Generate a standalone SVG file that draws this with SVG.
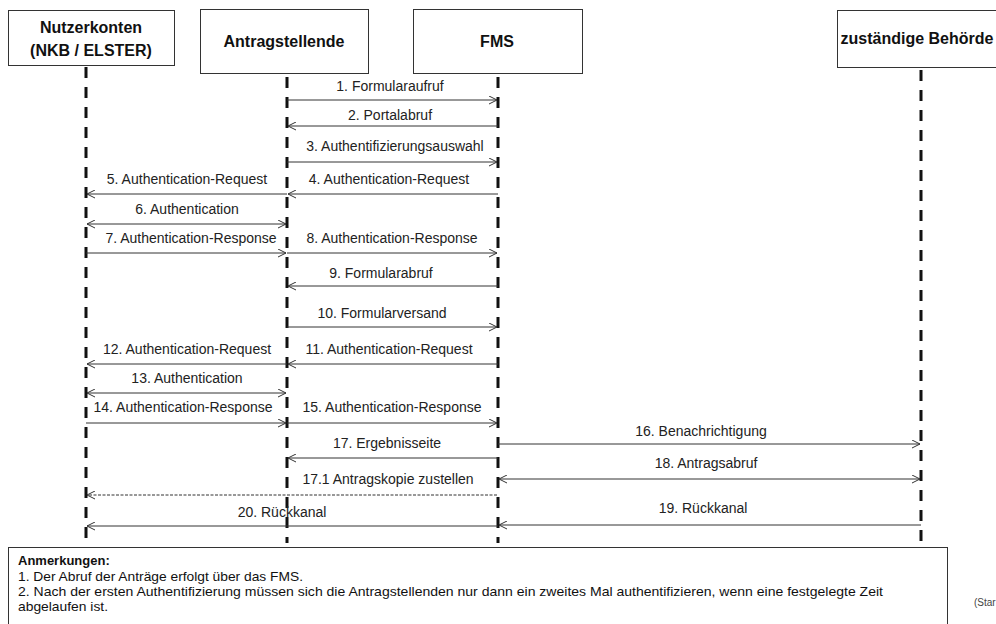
<svg xmlns="http://www.w3.org/2000/svg" width="996" height="624" viewBox="0 0 996 624">
<defs>
<marker id="ah" viewBox="0 0 9 9" refX="8.5" refY="4.5" markerWidth="9" markerHeight="9" markerUnits="userSpaceOnUse" orient="auto-start-reverse">
<path d="M0.5,0.5 L8.5,4.5 L0.5,8.5" fill="none" stroke="#333" stroke-width="1"/>
</marker>
<style>
.box{fill:#fff;stroke:#333;stroke-width:1}
.hd{font-family:"Liberation Sans",Arial,sans-serif;font-weight:bold;font-size:16px;fill:#111;text-anchor:middle}
.life{stroke:#111;stroke-width:3;stroke-dasharray:11 9;fill:none}
.msg{stroke:#333;stroke-width:1;fill:none;marker-end:url(#ah)}
.bi{marker-start:url(#ah)}
.dash{stroke-dasharray:3 1.5}
.lb{font-family:"Liberation Sans",Arial,sans-serif;font-size:14px;fill:#222;text-anchor:middle}
.nt{font-family:"Liberation Sans",Arial,sans-serif;font-size:13px;fill:#111}
</style>
</defs>
<rect width="996" height="624" fill="#fff"/>

<g id="nutzerkonten">
<rect class="box" x="8.5" y="10.5" width="166" height="55"/>
<text class="hd" x="91" y="33">Nutzerkonten</text>
<text class="hd" x="91" y="56">(NKB / ELSTER)</text>
<line class="life" x1="86" y1="67" x2="86" y2="543"/>
</g>
<g id="antragstellende">
<rect class="box" x="200.5" y="9.5" width="168" height="64"/>
<text class="hd" x="284" y="47">Antragstellende</text>
<line class="life" x1="287" y1="77" x2="287" y2="543"/>
</g>
<g id="fms">
<rect class="box" x="413.5" y="9.5" width="169" height="64"/>
<text class="hd" x="497" y="47">FMS</text>
<line class="life" x1="498" y1="77" x2="498" y2="543"/>
</g>
<g id="behoerde">
<rect class="box" x="837.5" y="10.5" width="172" height="57"/>
<text class="hd" x="917" y="44">zuständige Behörde</text>
<line class="life" x1="921" y1="70" x2="921" y2="543"/>
</g>

<g id="connectors">
<line class="msg" x1="287" y1="100" x2="497" y2="100"/>
<line class="msg" x1="498" y1="126" x2="288" y2="126"/>
<line class="msg" x1="287" y1="162" x2="497" y2="162"/>
<line class="msg" x1="498" y1="194" x2="288" y2="194"/>
<line class="msg" x1="287" y1="194" x2="87" y2="194"/>
<line class="msg bi" x1="87" y1="224" x2="286" y2="224"/>
<line class="msg" x1="86" y1="253" x2="286" y2="253"/>
<line class="msg" x1="287" y1="253" x2="497" y2="253"/>
<line class="msg" x1="498" y1="286" x2="288" y2="286"/>
<line class="msg" x1="287" y1="327" x2="497" y2="327"/>
<line class="msg" x1="498" y1="364" x2="288" y2="364"/>
<line class="msg" x1="287" y1="364" x2="87" y2="364"/>
<line class="msg bi" x1="87" y1="393" x2="286" y2="393"/>
<line class="msg" x1="86" y1="423" x2="286" y2="423"/>
<line class="msg" x1="287" y1="423" x2="497" y2="423"/>
<line class="msg" x1="498" y1="444" x2="920" y2="444"/>
<line class="msg" x1="498" y1="458" x2="288" y2="458"/>
<line class="msg bi" x1="499" y1="479" x2="920" y2="479"/>
<line class="msg dash" x1="497" y1="495" x2="87" y2="495"/>
<line class="msg" x1="921" y1="525" x2="499" y2="525"/>
<line class="msg" x1="498" y1="526" x2="87" y2="526"/>

<text class="lb" x="390" y="91">1. Formularaufruf</text>
<text class="lb" x="390" y="120">2. Portalabruf</text>
<text class="lb" x="395" y="151">3. Authentifizierungsauswahl</text>
<text class="lb" x="389" y="184">4. Authentication-Request</text>
<text class="lb" x="187" y="184">5. Authentication-Request</text>
<text class="lb" x="187" y="214">6. Authentication</text>
<text class="lb" x="191" y="243">7. Authentication-Response</text>
<text class="lb" x="392" y="243">8. Authentication-Response</text>
<text class="lb" x="381" y="278">9. Formularabruf</text>
<text class="lb" x="382" y="318">10. Formularversand</text>
<text class="lb" x="389" y="354">11. Authentication-Request</text>
<text class="lb" x="187" y="354">12. Authentication-Request</text>
<text class="lb" x="187" y="383">13. Authentication</text>
<text class="lb" x="183" y="412">14. Authentication-Response</text>
<text class="lb" x="392" y="412">15. Authentication-Response</text>
<text class="lb" x="701" y="436">16. Benachrichtigung</text>
<text class="lb" x="387" y="448">17. Ergebnisseite</text>
<text class="lb" x="706" y="468">18. Antragsabruf</text>
<text class="lb" x="388" y="484">17.1 Antragskopie zustellen</text>
<text class="lb" x="703" y="513">19. Rückkanal</text>
<text class="lb" x="282" y="517">20. Rückkanal</text>
</g>

<g id="anmerkungen">
<rect class="box" x="8.5" y="547.5" width="939" height="90"/>
<text class="nt" x="18" y="565" font-weight="bold" font-size="14.5px">Anmerkungen:</text>
<text class="nt" x="18" y="581" textLength="285" lengthAdjust="spacingAndGlyphs">1. Der Abruf der Anträge erfolgt über das FMS.</text>
<text class="nt" x="18" y="596" textLength="865" lengthAdjust="spacingAndGlyphs">2. Nach der ersten Authentifizierung müssen sich die Antragstellenden nur dann ein zweites Mal authentifizieren, wenn eine festgelegte Zeit</text>
<text class="nt" x="18" y="611" textLength="90" lengthAdjust="spacingAndGlyphs">abgelaufen ist.</text>
</g>
<text x="974" y="606" font-family="Liberation Sans, Arial, sans-serif" font-size="10px" fill="#444">(Star</text>
</svg>
